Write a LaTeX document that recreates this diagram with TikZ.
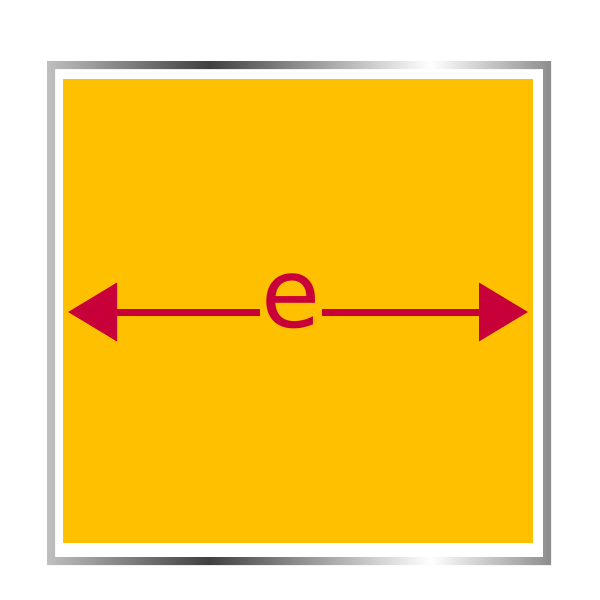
\documentclass[tikz,border=0pt]{standalone}
\usepackage{fontspec}
\setmainfont{DejaVu Sans}
\usepackage{xcolor}
\usetikzlibrary{arrows.meta}

\definecolor{amber}{RGB}{255,192,0}
\definecolor{crimson}{RGB}{200,0,58}
\pgfdeclarehorizontalshading{metal}{100bp}{color(0bp)=(gray!50); color(25bp)=(black!25); color(41bp)=(black!75); color(63bp)=(white); color(75bp)=(black!45); color(100bp)=(black!45)}

\begin{document}
\begin{tikzpicture}[x=1pt, y=-1pt, >={Triangle[length=49pt, width=57pt]}]
    \useasboundingbox (0,0) rectangle (600,600);

    % metal frame and board
    \shade[shading=metal, even odd rule] (47,61) rectangle (551,565) (55,69) rectangle (543,557);
    \fill[amber] (63,79) rectangle (533,543);

    % width arrow
    \coordinate (lt) at (68,312);
    \coordinate (rt) at (528,312);
    \node[crimson, inner sep=1pt, anchor=base] (e) at (291,327) {\fontsize{96}{96}\selectfont e};
    \draw[crimson, line width=7pt, ->] (e.west |- lt) -- (lt);
    \draw[crimson, line width=7pt, ->] (e.east |- rt) -- (rt);
\end{tikzpicture}
\end{document}
